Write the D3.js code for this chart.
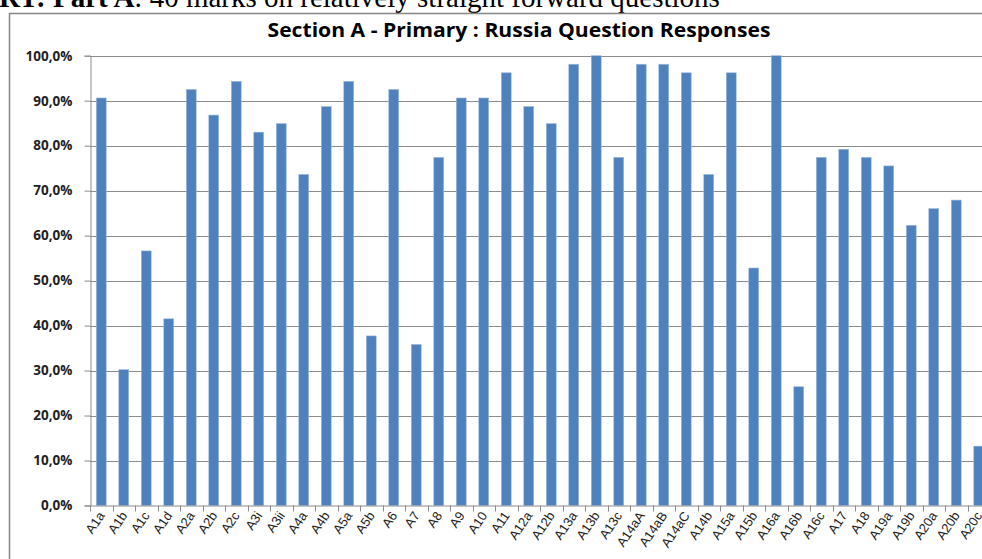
<!DOCTYPE html>
<html><head><meta charset="utf-8">
<script src="https://cdnjs.cloudflare.com/ajax/libs/d3/7.8.5/d3.min.js"></script>
<style>html,body{margin:0;padding:0;background:#fff;overflow:hidden}</style>
</head><body>
<svg id="c" width="982" height="559"></svg>
<script>
const categories = ["A1a","A1b","A1c","A1d","A2a","A2b","A2c","A3i","A3ii","A4a","A4b","A5a","A5b","A6","A7","A8","A9","A10","A11","A12a","A12b","A13a","A13b","A13c","A14aA","A14aB","A14aC","A14b","A15a","A15b","A16a","A16b","A16c","A17","A18","A19a","A19b","A20a","A20b","A20c"];
const values = [90.6,30.2,56.6,41.5,92.5,86.8,94.3,83.0,84.9,73.6,88.7,94.3,37.7,92.5,35.8,77.4,90.6,90.6,96.2,88.7,84.9,98.1,100,77.4,98.1,98.1,96.2,73.6,96.2,52.8,100,26.4,77.4,79.2,77.4,75.5,62.3,66.0,67.9,13.2];
const yTicks = [0,10,20,30,40,50,60,70,80,90,100];
const title = "Section A - Primary : Russia Question Responses";
const headBold = "RT: Part A";
const headRest = ": 40 marks on relatively straight forward questions";

const svg = d3.select("#c");
const pLeft = 90, pTop = 55.7, pBottom = 505.5, pRight = 990;

// document header text (cropped at top)
const head = svg.append("text").attr("x", -1).attr("y", 7)
  .attr("font-family", "Liberation Serif, Times New Roman, serif").attr("font-size", 29).attr("fill", "#000");
head.append("tspan").attr("font-weight", "bold").text(headBold);
head.append("tspan").text(headRest);

// chart frame
svg.append("path").attr("d", `M9.5,${559}V13.5H${990}`).attr("fill", "none").attr("stroke", "#868686").attr("stroke-width", 1.5);

svg.append("text").attr("x", 519).attr("y", 37).attr("text-anchor", "middle")
  .attr("font-family", "Open Sans, Noto Sans, sans-serif").attr("font-weight", "bold")
  .attr("font-size", 19).attr("textLength", 503).attr("lengthAdjust", "spacingAndGlyphs")
  .attr("fill", "#000").text(title);

const x = d3.scaleBand().domain(categories).range([pLeft, pRight]).paddingInner(0.56).paddingOuter(0.28);
const xb = d3.scaleBand().domain(categories).range([pLeft, pRight]);
const y = d3.scaleLinear().domain([0, 100]).range([pBottom, pTop]);

// gridlines
svg.append("g").selectAll("line").data(yTicks.filter(d => d > 0)).join("line")
  .attr("x1", pLeft).attr("x2", pRight).attr("y1", d => Math.round(y(d)) + 0.5).attr("y2", d => Math.round(y(d)) + 0.5)
  .attr("stroke", "#8c8c8c").attr("stroke-width", 1);

// bars
svg.append("g").selectAll("rect").data(values).join("rect")
  .attr("x", (d, i) => x(categories[i])).attr("width", x.bandwidth())
  .attr("y", d => y(d)).attr("height", d => pBottom - y(d))
  .attr("fill", "#4F81BD").attr("stroke", "#9DB9DD").attr("stroke-width", 0.6);

// y axis
const yAxis = d3.axisLeft(y).tickValues(yTicks).tickSize(6).tickPadding(12)
  .tickFormat(d => d3.format(".1f")(d).replace(".", ",") + "%");
const ga = svg.append("g").attr("transform", `translate(${pLeft + 0.5},0)`).call(yAxis);
ga.select(".domain").attr("stroke", "#8c8c8c");
ga.selectAll(".tick line").attr("stroke", "#8c8c8c");
ga.selectAll(".tick text").attr("font-family", "Open Sans, Noto Sans, sans-serif").attr("font-weight", "bold")
  .attr("font-size", 13.5).attr("fill", "#222");

// x axis
svg.append("line").attr("x1", pLeft).attr("x2", pRight).attr("y1", pBottom + 0.5).attr("y2", pBottom + 0.5).attr("stroke", "#8c8c8c");
svg.append("g").selectAll("line").data(categories).join("line")
  .attr("x1", d => Math.round(xb(d)) + 0.5).attr("x2", d => Math.round(xb(d)) + 0.5)
  .attr("y1", pBottom).attr("y2", pBottom + 6).attr("stroke", "#8c8c8c");
svg.append("g").selectAll("text").data(categories).join("text")
  .attr("transform", d => `translate(${xb(d) + xb.bandwidth() / 2 + 4},${pBottom + 10}) rotate(-56)`)
  .attr("text-anchor", "end").attr("font-family", "Liberation Sans, Arial, sans-serif")
  .attr("font-size", 13).attr("fill", "#222").text(d => d);
</script>
</body></html>
